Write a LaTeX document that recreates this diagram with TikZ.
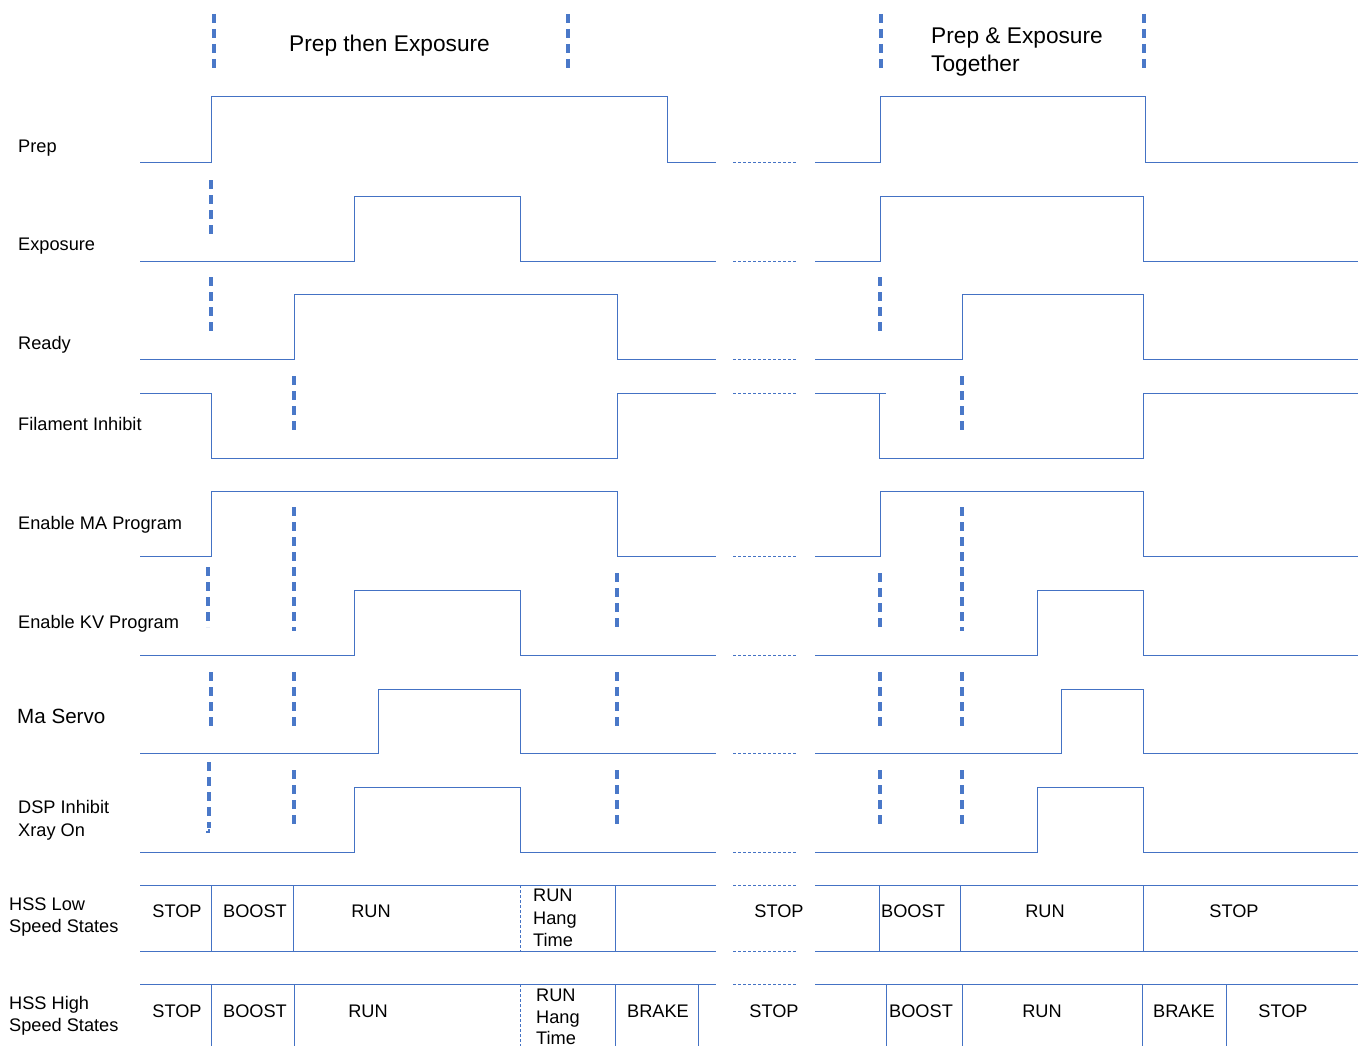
\documentclass[tikz,border=0pt]{standalone}
\usepackage{fontspec}
\setmainfont{Liberation Sans}
\definecolor{sigblue}{HTML}{4472C4}
\definecolor{dashblue}{HTML}{4A78C8}
\begin{document}
\begin{tikzpicture}[x=1pt,y=-1pt,
  sig/.style={draw=sigblue, line width=1.0pt},
  vdash/.style={draw=dashblue, line width=3.2pt, dash pattern=on 9pt off 6pt},
  gapline/.style={draw=sigblue, line width=0.9pt, dash pattern=on 3pt off 2pt},
  thindash/.style={draw=sigblue, line width=0.8pt, dash pattern=on 3pt off 2pt},
  lbl/.style={anchor=base west, inner sep=0pt, font=\fontsize{18.2}{22}\selectfont},
  st/.style={anchor=base, inner sep=0pt, font=\fontsize{18.2}{22}\selectfont},
  ttl/.style={anchor=base west, inner sep=0pt, font=\fontsize{22.7}{28}\selectfont}]
\useasboundingbox (0,0) rectangle (1362,1046);

% titles
\node[ttl] (t1) at (289,52) {Prep then Exposure};
\node[ttl] (t2a) at (931,44) {Prep \& Exposure};
\node[ttl] (t2b) at (931,72) {Together};

% row labels
\node[lbl] (lprep) at (18,152.5) {Prep};
\node[lbl] (lexp) at (18,250.5) {Exposure};
\node[lbl] (lready) at (18,349.5) {Ready};
\node[lbl] (lfil) at (18,430.5) {Filament Inhibit};
\node[lbl] (lma) at (18,529.5) {Enable MA Program};
\node[lbl] (lkv) at (18,628.5) {Enable KV Program};
\node[lbl, font=\fontsize{20.6}{24}\selectfont] (lservo) at (17,723.5) {Ma Servo};
\node[lbl] (ldsp1) at (18,813.5) {DSP Inhibit};
\node[lbl] (ldsp2) at (18,836) {Xray On};
\node[lbl] (llow1) at (9,910.5) {HSS Low};
\node[lbl] (llow2) at (9,932.5) {Speed States};
\node[lbl] (lhigh1) at (9,1009.5) {HSS High};
\node[lbl] (lhigh2) at (9,1031.5) {Speed States};

% top markers
\draw[vdash] (214,14) -- (214,72);
\draw[vdash] (568,14) -- (568,72);
\draw[vdash] (881,14) -- (881,72);
\draw[vdash] (1144,14) -- (1144,72);

% Prep
\draw[sig] (140,162) -- (211,162) -- (211,97) -- (667,97) -- (667,162) -- (716,162);
\draw[gapline] (733,162) -- (796,162);
\draw[sig] (815,162) -- (880,162) -- (880,97) -- (1145,97) -- (1145,162) -- (1358,162);
% Exposure
\draw[sig] (140,261) -- (354,261) -- (354,196) -- (520,196) -- (520,261) -- (716,261);
\draw[gapline] (733,261) -- (796,261);
\draw[sig] (815,261) -- (880,261) -- (880,196) -- (1143,196) -- (1143,261) -- (1358,261);
% Ready
\draw[sig] (140,359) -- (294,359) -- (294,294) -- (617,294) -- (617,359) -- (716,359);
\draw[gapline] (733,359) -- (796,359);
\draw[sig] (815,359) -- (962,359) -- (962,294) -- (1143,294) -- (1143,359) -- (1358,359);
% Filament Inhibit
\draw[sig] (140,393) -- (211,393) -- (211,458) -- (617,458) -- (617,393) -- (716,393);
\draw[gapline] (733,393) -- (796,393);
\draw[sig] (815,393) -- (886,393);
\draw[sig] (879,393) -- (879,458) -- (1143,458) -- (1143,393) -- (1358,393);
% Enable MA
\draw[sig] (140,556) -- (211,556) -- (211,491) -- (617,491) -- (617,556) -- (716,556);
\draw[gapline] (733,556) -- (796,556);
\draw[sig] (815,556) -- (880,556) -- (880,491) -- (1143,491) -- (1143,556) -- (1358,556);
% Enable KV
\draw[sig] (140,655) -- (354,655) -- (354,590) -- (520,590) -- (520,655) -- (716,655);
\draw[gapline] (733,655) -- (796,655);
\draw[sig] (815,655) -- (1037,655) -- (1037,590) -- (1143,590) -- (1143,655) -- (1358,655);
% Ma Servo
\draw[sig] (140,753) -- (378,753) -- (378,689) -- (520,689) -- (520,753) -- (716,753);
\draw[gapline] (733,753) -- (796,753);
\draw[sig] (815,753) -- (1061,753) -- (1061,689) -- (1143,689) -- (1143,753) -- (1358,753);
% DSP Inhibit
\draw[sig] (140,852) -- (354,852) -- (354,787) -- (520,787) -- (520,852) -- (716,852);
\draw[gapline] (733,852) -- (796,852);
\draw[sig] (815,852) -- (1037,852) -- (1037,787) -- (1143,787) -- (1143,852) -- (1358,852);

% marker dashes
\draw[vdash] (211,180) -- (211,237);
\draw[vdash] (211,277) -- (211,335);
\draw[vdash] (880,277) -- (880,335);
\draw[vdash] (294,376) -- (294,433);
\draw[vdash] (962,376) -- (962,433);
\draw[vdash] (294,507) -- (294,631);
\draw[vdash] (962,507) -- (962,631);
\draw[vdash] (208,567) -- (208,627);
\draw[vdash] (617,573) -- (617,631);
\draw[vdash] (880,573) -- (880,631);
\foreach \xx in {211,294,617,880,962} \draw[vdash] (\xx,672) -- (\xx,730);
\draw[vdash] (209,762) -- (209,828);
\draw[draw=dashblue, line width=2pt] (209,829) -- (209,832) -- (206,832);
\foreach \xx in {294,617,880,962} \draw[vdash] (\xx,770) -- (\xx,828);

% HSS Low
\draw[sig] (140,885) -- (716,885);
\draw[sig] (140,951) -- (716,951);
\draw[gapline] (733,885) -- (796,885);
\draw[gapline] (733,951) -- (796,951);
\draw[sig] (815,885) -- (1358,885);
\draw[sig] (815,951) -- (1358,951);
\foreach \xx in {211,293,615,879,960,1143} \draw[sig] (\xx,885) -- (\xx,951);
\draw[thindash] (520,885) -- (520,951);
\node[st] (l1) at (177,917.5) {STOP};
\node[st] (l2) at (255,917.5) {BOOST};
\node[st] (l3) at (371,917.5) {RUN};
\node[lbl] (l4a) at (533,901.5) {RUN};
\node[lbl] (l4b) at (533,924) {Hang};
\node[lbl] (l4c) at (533,946.5) {Time};
\node[st] (l5) at (779,917.5) {STOP};
\node[st] (l6) at (913,917.5) {BOOST};
\node[st] (l7) at (1045,917.5) {RUN};
\node[st] (l8) at (1234,917.5) {STOP};

% HSS High
\draw[sig] (140,984) -- (716,984);
\draw[gapline] (733,984) -- (796,984);
\draw[sig] (815,984) -- (1358,984);
\foreach \xx in {211,294,615,698,886,962,1142,1226} \draw[sig] (\xx,984) -- (\xx,1046);
\draw[thindash] (520,984) -- (520,1046);
\node[st] (h1) at (177,1017.5) {STOP};
\node[st] (h2) at (255,1017.5) {BOOST};
\node[st] (h3) at (368,1017.5) {RUN};
\node[lbl] (h4a) at (536,1001.5) {RUN};
\node[lbl] (h4b) at (536,1023) {Hang};
\node[lbl] (h4c) at (536,1044.5) {Time};
\node[st] (h5) at (658,1017.5) {BRAKE};
\node[st] (h6) at (774,1017.5) {STOP};
\node[st] (h7) at (921,1017.5) {BOOST};
\node[st] (h8) at (1042,1017.5) {RUN};
\node[st] (h9) at (1184,1017.5) {BRAKE};
\node[st] (h10) at (1283,1017.5) {STOP};
\end{tikzpicture}
\end{document}
